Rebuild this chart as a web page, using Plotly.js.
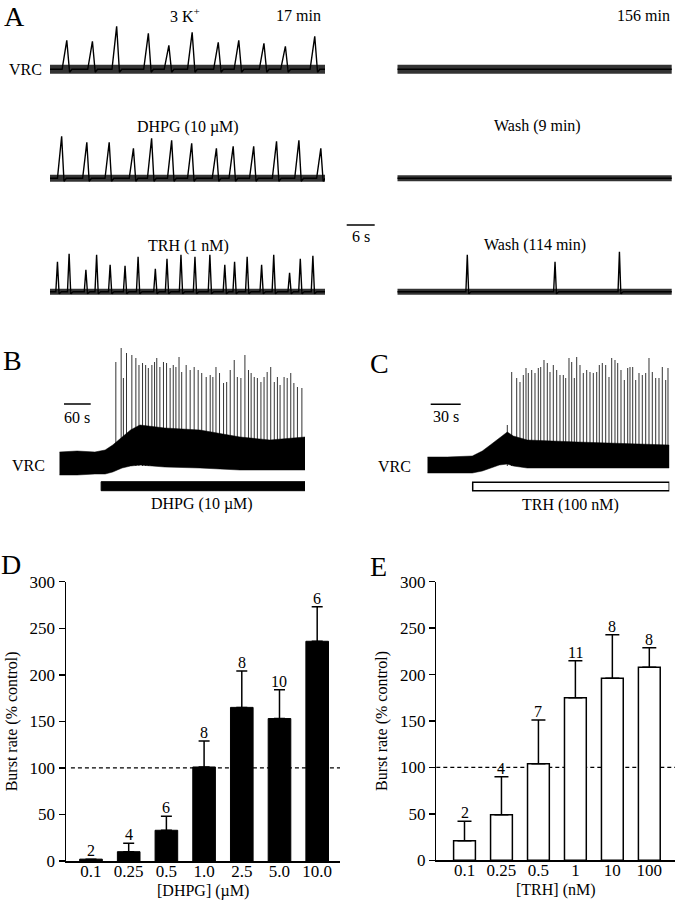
<!DOCTYPE html>
<html>
<head>
<meta charset="utf-8">
<script src="https://cdn.plot.ly/plotly-3.0.1.min.js"></script>
<style>html,body{margin:0;padding:0;background:#fff;}#chart{width:677px;height:900px;}</style>
</head>
<body>
<div id="chart"></div>
<script>
// ---------------- DATA ----------------
// Panel A: burst peak times (s) and amplitudes (trace units) for each 59 s sweep
const aDuration = 59;
const a1LeftPeakT   = [3.6, 9.1, 14.3, 21.1, 25.5, 30.5, 36.1, 40.5, 45.9, 50.5, 56.8];
const a1LeftPeakAmp = [29, 28, 43, 36, 24, 37, 27, 29, 26, 23, 33];
const a1RightPeakT   = [];
const a1RightPeakAmp = [];
const a2LeftPeakT   = [2.5, 7.9, 12.7, 17.9, 21.8, 26.1, 30.4, 35.7, 39.3, 43.7, 48.6, 53.4, 58.1];
const a2LeftPeakAmp = [42, 36, 36, 30, 40, 38, 35, 30, 32, 32, 37, 38, 30];
const a2RightPeakT   = [];
const a2RightPeakAmp = [];
const a3LeftPeakT   = [1.6, 4.1, 7.7, 10.0, 12.9, 16.1, 18.9, 22.6, 25.1, 28.1, 31.1, 34.3, 37.5, 39.6, 42.3, 45.4, 48.0, 51.4, 53.7, 56.4];
const a3LeftPeakAmp = [30, 38, 22, 37, 27, 26, 35, 23, 33, 37, 35, 37, 27, 30, 35, 27, 37, 19, 33, 36];
const a3RightPeakT   = [15.0, 33.8, 47.6];
const a3RightPeakAmp = [37, 30, 40];
const aNoiseHalf = [4.5, 4.5, 3.5, 3, 3, 3];   // half-height of baseline noise band
const aScaleSec = 6;

// Panel B: DHPG (10 uM), 552 s sweep
const bDuration = 552;
const bDrugOn = 94;
const bSpikeT = [127,139,144,151,163,172,179,187,194,200,208,214,219,226,234,241,249,256,262,269,275,285,294,303,312,320,330,339,345,352,360,369,376,384,393,400,408,417,425,431,438,445,453,460,467,475,483,490,496,505,512,520,527,535,545];
const bSpikePeak = [116,130,100,125,123,120,113,115,113,110,113,116,120,111,116,115,110,113,111,121,106,113,108,111,108,105,101,103,101,111,105,95,96,108,118,101,100,123,108,105,101,100,96,101,106,111,96,101,93,101,100,105,95,91,90];
const bEnvT  = [0, 40, 80, 103, 120, 141, 160, 181, 237, 316, 406, 473, 552];
const bEnvHi = [26, 27, 26, 28, 33, 41, 48, 53, 50, 48, 41, 38, 41];
const bEnvLo = [3, 3, 4, 4, 6, 10, 12, 13, 11, 10, 8, 8, 8];
const bScaleSec = 60;

// Panel C: TRH (100 nM), 242 s sweep
const cDuration = 242;
const cDrugOn = 45.4;
const cSpikeT = [80,84.4,89.4,92.7,96,98.7,101,104.4,107.7,111,113.4,116.7,120,122.7,126,129.4,132.7,136,138.4,141.7,144.4,147,149.4,152.7,156,159.4,162.7,166,169.4,172,175,178.4,181.7,184.4,187.7,190.4,193.7,197,200.4,202.7,205.4,208.4,211.7,215,218.4,221.7,225,228.4,231.7,235,238.4,240.7];
const cSpikePeak = [53,106,100,96,103,110,105,108,105,110,111,118,115,106,113,108,103,103,100,120,116,100,121,113,105,108,106,105,106,113,115,113,101,120,118,115,108,98,110,111,111,98,105,103,105,120,106,100,100,111,98,110];
const cEnvT  = [0, 20, 45, 55, 63, 72, 80, 86, 100, 150, 200, 242];
const cEnvHi = [21, 21, 22, 27, 33, 40, 46, 42, 38, 36, 34, 33];
const cEnvLo = [5, 5, 5, 7, 10, 13, 14, 12, 10, 10, 10, 10];
const cScaleSec = 30;

// Panel D: DHPG concentration-response
const dCats = ['0.1', '0.25', '0.5', '1.0', '2.5', '5.0', '10.0'];
const dMean = [2, 10, 33, 101, 165, 153, 236];
const dSem  = [0, 9, 15, 28, 39, 31, 37];
const dN    = [2, 4, 6, 8, 8, 10, 6];

// Panel E: TRH concentration-response
const eCats = ['0.1', '0.25', '0.5', '1', '10', '100'];
const eMean = [21, 49, 104, 175, 196, 208];
const eSem  = [21, 41, 47, 40, 47, 21];
const eN    = [2, 4, 7, 11, 8, 8];

const yTicks = [0, 50, 100, 150, 200, 250, 300];

// ---------------- LAYOUT HELPERS ----------------
const W = 677, H = 900;
const X = p => p / W;
const Y = p => 1 - p / H;
const FONT = "'Liberation Serif', 'Times New Roman', serif";

const traces = [];
const BASE = 12;

function burstLine(peakT, peakAmp, dur, rise, fall, dip, ax) {
  const x = [0], y = [BASE];
  for (let i = 0; i < peakT.length; i++) {
    const t = peakT[i];
    x.push(Math.max(0, t - rise), t, Math.min(dur, t + fall), Math.min(dur, t + fall + 0.5));
    y.push(BASE, BASE + peakAmp[i], BASE - dip, BASE);
  }
  x.push(dur); y.push(BASE);
  return {type: 'scatter', mode: 'lines', x, y, xaxis: 'x' + ax, yaxis: 'y' + ax,
          line: {color: '#000', width: 1.4}, hoverinfo: 'skip'};
}
function noiseBand(half, dur, ax) {
  return {type: 'scatter', mode: 'lines', x: [0, dur, dur, 0, 0],
          y: [BASE - half, BASE - half, BASE + half, BASE + half, BASE - half],
          fill: 'toself', fillcolor: 'rgba(0,0,0,0.8)', line: {width: 0, color: 'rgba(0,0,0,0)'},
          xaxis: 'x' + ax, yaxis: 'y' + ax, hoverinfo: 'skip'};
}

const aSets = [
  [a1LeftPeakT, a1LeftPeakAmp, 1.0, 0.6, 3],
  [a1RightPeakT, a1RightPeakAmp, 0.3, 0.3, 2],
  [a2LeftPeakT, a2LeftPeakAmp, 0.9, 0.5, 3],
  [a2RightPeakT, a2RightPeakAmp, 0.3, 0.3, 2],
  [a3LeftPeakT, a3LeftPeakAmp, 0.35, 0.35, 2],
  [a3RightPeakT, a3RightPeakAmp, 0.3, 0.3, 2]
];
aSets.forEach((s, i) => {
  const ax = i === 0 ? '' : String(i + 1);
  traces.push(noiseBand(aNoiseHalf[i], aDuration, ax));
  traces.push(burstLine(s[0], s[1], aDuration, s[2], s[3], s[4], ax));
});

function spikes(tArr, pArr, ax) {
  const x = [], y = [];
  tArr.forEach((t, i) => { x.push(t, t, null); y.push(12, pArr[i], null); });
  return {type: 'scatter', mode: 'lines', x, y, xaxis: 'x' + ax, yaxis: 'y' + ax,
          line: {color: 'rgba(0,0,0,0.8)', width: 1}, hoverinfo: 'skip'};
}
function envBand(tArr, hi, lo, ax) {
  const x = tArr.concat(tArr.slice().reverse());
  const y = hi.concat(lo.slice().reverse());
  return {type: 'scatter', mode: 'lines', x, y, fill: 'toself', fillcolor: '#000',
          line: {width: 0.5, color: '#000'}, xaxis: 'x' + ax, yaxis: 'y' + ax, hoverinfo: 'skip'};
}
traces.push(spikes(bSpikeT, bSpikePeak, '7'));
traces.push(envBand(bEnvT, bEnvHi, bEnvLo, '7'));
traces.push(spikes(cSpikeT, cSpikePeak, '8'));
traces.push(envBand(cEnvT, cEnvHi, cEnvLo, '8'));

// Bars
traces.push({type: 'bar', x: dCats, y: dMean, xaxis: 'x9', yaxis: 'y9', width: 0.6,
  marker: {color: '#000', line: {color: '#000', width: 1}},
  error_y: {type: 'data', symmetric: false, array: dSem, arrayminus: dSem.map(() => 0),
            color: '#000', thickness: 1.5, width: 5.5},
  hoverinfo: 'skip'});
traces.push({type: 'bar', x: eCats, y: eMean, xaxis: 'x10', yaxis: 'y10', width: 0.59,
  marker: {color: '#fff', line: {color: '#000', width: 1.5}},
  error_y: {type: 'data', symmetric: false, array: eSem, arrayminus: eSem.map(() => 0),
            color: '#000', thickness: 1.5, width: 7},
  hoverinfo: 'skip'});

// ---------------- AXES ----------------
const layout = {
  width: W, height: H, margin: {l: 0, r: 0, t: 0, b: 0},
  paper_bgcolor: '#fff', plot_bgcolor: 'rgba(0,0,0,0)', showlegend: false,
  font: {family: FONT, size: 16, color: '#000'},
  annotations: [], shapes: []
};
function hidden(dom, rng, anchor) {
  return {domain: dom, range: rng, visible: false, fixedrange: true, anchor: anchor};
}
const leftDom = [X(50), X(325)], rightDom = [X(397.3), X(671.7)];
const rowBase = [69.3, 178.3, 291.7];
const aXRange = [[0, 59], [0, 58.8]];
for (let i = 0; i < 6; i++) {
  const n = i + 1, s = n === 1 ? '' : String(n);
  const row = Math.floor(i / 2), col = i % 2;
  const bottom = rowBase[row] + BASE, top = rowBase[row] - 50;
  layout['xaxis' + s] = hidden(col ? rightDom : leftDom, aXRange[col], 'y' + s);
  layout['yaxis' + s] = hidden([Y(bottom), Y(top)], [0, 62], 'x' + s);
}
layout.xaxis7 = hidden([X(59.3), X(305)], [0, bDuration], 'y7');
layout.yaxis7 = hidden([Y(478), Y(340)], [0, 138], 'x7');
layout.xaxis8 = hidden([X(427.3), X(669.3)], [0, cDuration], 'y8');
layout.yaxis8 = hidden([Y(478), Y(340)], [0, 138], 'x8');

function barX(dom, rng, anchor) {
  return {domain: dom, range: rng, type: 'category', anchor: anchor, showline: true, linecolor: '#000',
          linewidth: 1.5, ticks: '', ticklen: 0, ticklabelstandoff: -6, showgrid: false, zeroline: false,
          fixedrange: true, tickfont: {family: FONT, size: 17}};
}
function barY(dom, title, anchor) {
  return {domain: dom, range: [0, 300], anchor: anchor, showline: true, linecolor: '#000', linewidth: 1.5,
          ticks: 'outside', ticklen: 6, tickwidth: 1.5, tickcolor: '#000', tickvals: yTicks,
          showgrid: false, zeroline: false, fixedrange: true, tickfont: {family: FONT, size: 17},
          title: {text: title, font: {family: FONT, size: 16}, standoff: 8}};
}
layout.xaxis9 = barX([X(66), X(340)], [-0.663, 6.605], 'y9');
layout.yaxis9 = barY([Y(861), Y(581.7)], 'Burst rate (% control)', 'x9');
layout.xaxis10 = barX([X(436.3), X(675)], [-0.763, 5.695], 'y10');
layout.yaxis10 = barY([Y(860.3), Y(581.7)], 'Burst rate (% control)', 'x10');

// ---------------- SHAPES ----------------
layout.shapes.push({type: 'line', xref: 'x9 domain', yref: 'y9', x0: 0.018, x1: 1, y0: 100, y1: 100,
  line: {color: '#000', width: 1.2, dash: '4px,3px'}, layer: 'below'});
layout.shapes.push({type: 'line', xref: 'x10 domain', yref: 'y10', x0: 0, x1: 1, y0: 100, y1: 100,
  line: {color: '#000', width: 1.2, dash: '4px,3px'}, layer: 'below'});
// scale bars
const pxPerSecA = (671.7 - 397.3) / 58.8;
layout.shapes.push({type: 'line', xref: 'paper', yref: 'paper', x0: X(346.7), x1: X(346.7 + aScaleSec * pxPerSecA),
  y0: Y(225), y1: Y(225), line: {color: '#000', width: 1.5}});
layout.shapes.push({type: 'line', xref: 'x7', yref: 'y7', x0: 10.6, x1: 10.6 + bScaleSec, y0: 74, y1: 74,
  line: {color: '#000', width: 1.5}});
layout.shapes.push({type: 'line', xref: 'x8', yref: 'y8', x0: 3.4, x1: 3.4 + cScaleSec, y0: 73.7, y1: 73.7,
  line: {color: '#000', width: 1.5}});
// drug application bars
layout.shapes.push({type: 'rect', xref: 'x7', yref: 'paper', x0: bDrugOn, x1: bDuration, y0: Y(490.7), y1: Y(481.7),
  fillcolor: '#000', line: {color: '#000', width: 1}});
layout.shapes.push({type: 'rect', xref: 'x8', yref: 'paper', x0: cDrugOn, x1: cDuration, y0: Y(490.7), y1: Y(482.3),
  fillcolor: '#fff', line: {color: '#000', width: 1.5}});

// ---------------- TEXT ----------------
function txt(text, x, y, size, xanchor) {
  layout.annotations.push({text, xref: 'paper', yref: 'paper', x: X(x), y: Y(y), xanchor: xanchor || 'center',
    yanchor: 'middle', showarrow: false, font: {family: FONT, size: size || 16, color: '#000'}});
}
txt('A', 14, 17, 28);
txt('B', 12, 360, 28);
txt('C', 379, 364, 28);
txt('D', 11, 564, 28);
txt('E', 378, 566, 28);
txt('3 K<sup>+</sup>', 185, 15);
txt('17 min', 323, 15, 16, 'right');
txt('156 min', 672, 15, 16, 'right');
txt('VRC', 44, 70, 16, 'right');
txt('DHPG (10 µM)', 188, 127);
txt('Wash (9 min)', 537, 126);
txt('TRH (1 nM)', 188, 246);
txt('Wash (114 min)', 535, 245);
txt('6 s', 361, 237);
txt('60 s', 77, 417);
txt('VRC', 47, 465, 16, 'right');
txt('DHPG (10 µM)', 202, 504);
txt('30 s', 446, 416);
txt('VRC', 413, 467, 16, 'right');
txt('TRH (100 nM)', 570, 505);
txt('[DHPG] (µM)', 203, 891);
txt('[TRH] (nM)', 556, 890);

dCats.forEach((c, i) => layout.annotations.push({text: String(dN[i]), xref: 'x9', yref: 'y9', x: i,
  y: dMean[i] + dSem[i], yanchor: 'bottom', yshift: -2, showarrow: false, font: {family: FONT, size: 16}}));
eCats.forEach((c, i) => layout.annotations.push({text: String(eN[i]), xref: 'x10', yref: 'y10', x: i,
  y: eMean[i] + eSem[i], yanchor: 'bottom', yshift: -2, showarrow: false, font: {family: FONT, size: 16}}));

Plotly.newPlot('chart', traces, layout, {staticPlot: true, displayModeBar: false});
</script>
</body>
</html>
